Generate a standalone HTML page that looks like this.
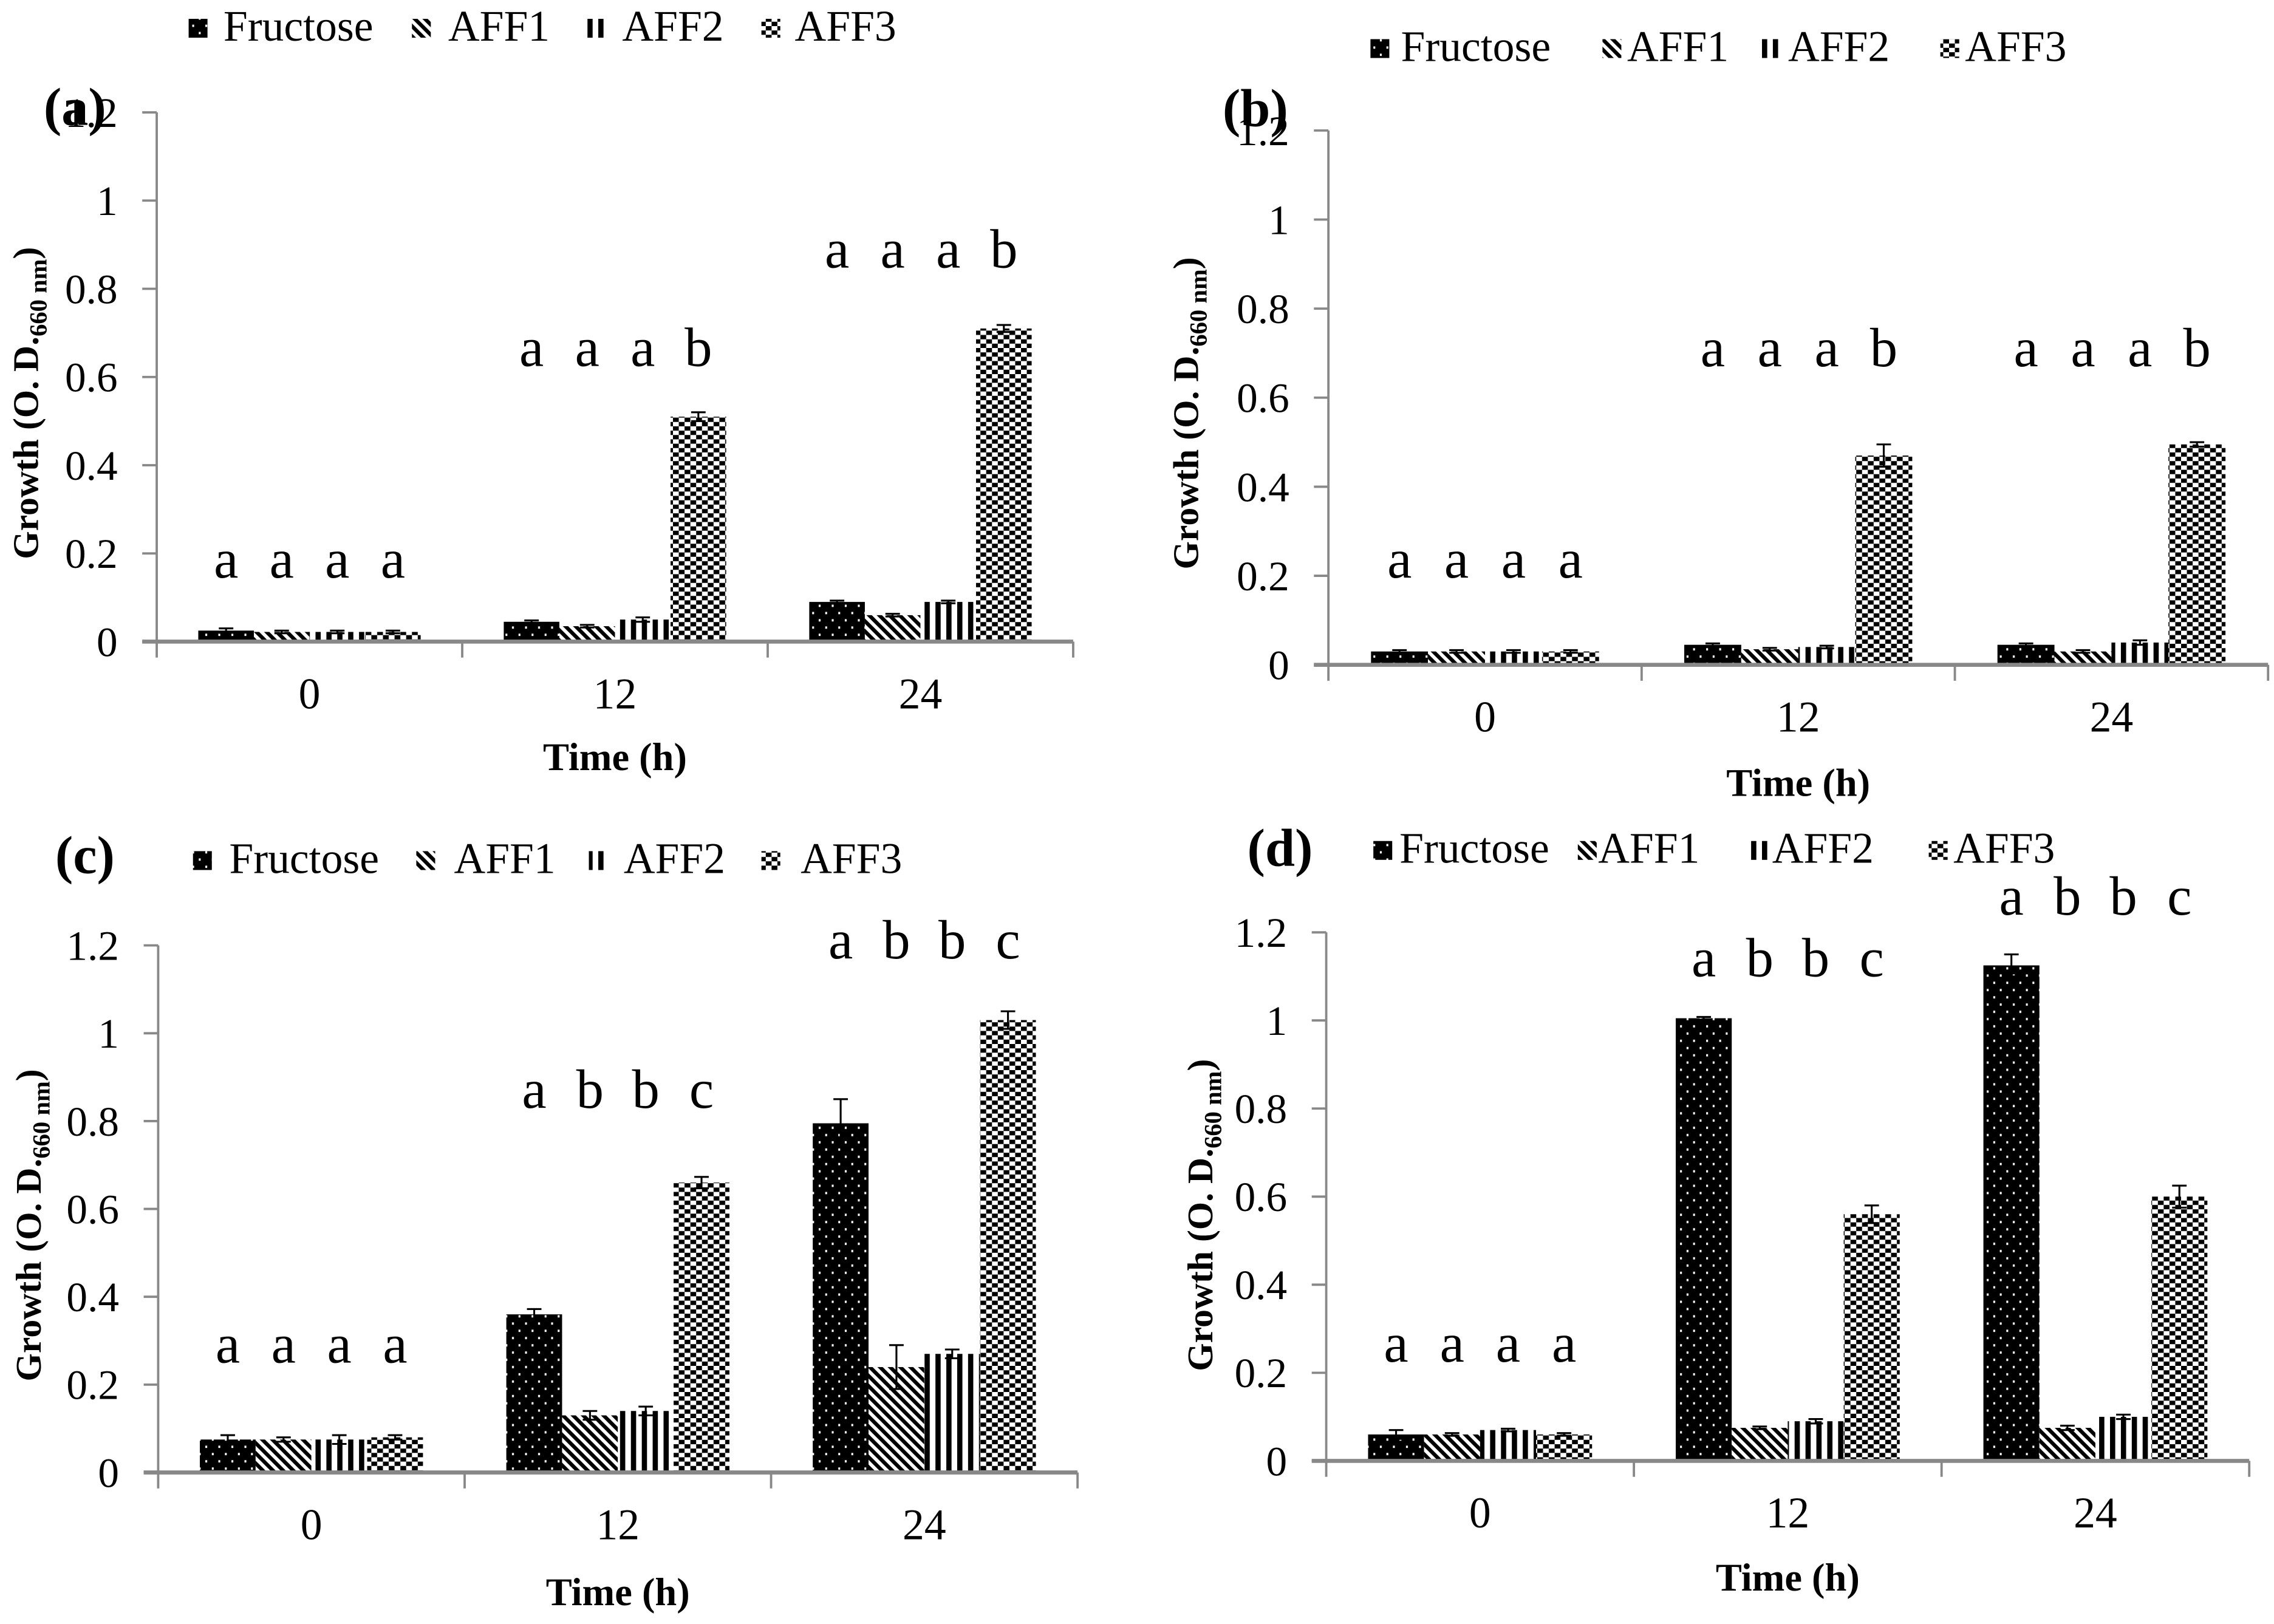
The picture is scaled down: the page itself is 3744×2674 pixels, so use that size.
<!DOCTYPE html>
<html><head><meta charset="utf-8"><style>
html,body{margin:0;padding:0;background:#fff;}
svg{display:block;font-family:"Liberation Serif",serif;}
</style></head><body>
<svg id="fig" width="3744" height="2674" viewBox="0 0 1568 1120" xmlns="http://www.w3.org/2000/svg">
<defs>
<pattern id="pDots" width="9" height="10" patternUnits="userSpaceOnUse"><rect width="9" height="10" fill="#000"/><rect x="2" y="2" width="1.3" height="1.6" fill="#fff"/><rect x="6.5" y="7" width="1.3" height="1.6" fill="#fff"/></pattern>
<pattern id="pHatch" width="7" height="7" patternUnits="userSpaceOnUse"><rect width="7" height="7" fill="#fff"/><path d="M-2,-2 L9,9 M-2,5 L2,9 M5,-2 L9,2" stroke="#000" stroke-width="2.6"/></pattern>
<pattern id="pVert" width="7.5" height="7" patternUnits="userSpaceOnUse"><rect width="7.5" height="7" fill="#fff"/><rect x="0" width="3.6" height="7" fill="#000"/></pattern>
<pattern id="pCheck" width="8" height="6" patternUnits="userSpaceOnUse"><rect width="8" height="6" fill="#fff"/><rect width="4" height="3" fill="#000"/><rect x="4" y="3" width="4" height="3" fill="#000"/></pattern>
</defs>
</svg>
<script>
const categories = ["0","12","24"];
const seriesNames = ["Fructose","AFF1","AFF2","AFF3"];
const yTicks = [0,0.2,0.4,0.6,0.8,1,1.2];
const yTickLabels = ["0","0.2","0.4","0.6","0.8","1","1.2"];
// values[series][category]
const valuesA = [[0.025,0.045,0.09],[0.022,0.035,0.06],[0.022,0.05,0.09],[0.022,0.51,0.71]];
const errorsA = [[0.005,0.003,0.003],[0.003,0.003,0.003],[0.003,0.005,0.003],[0.003,0.01,0.008]];
const lettersA = [["a","a","a","a"],["a","a","a","b"],["a","a","a","b"]];
const letterLevelA = [0.175,0.655,0.878];
const valuesB = [[0.03,0.045,0.045],[0.03,0.035,0.03],[0.03,0.04,0.05],[0.03,0.47,0.495]];
const errorsB = [[0.003,0.003,0.003],[0.003,0.003,0.003],[0.003,0.003,0.005],[0.003,0.025,0.005]];
const lettersB = [["a","a","a","a"],["a","a","a","b"],["a","a","a","b"]];
const letterLevelB = [0.225,0.70,0.70];
const valuesC = [[0.075,0.36,0.795],[0.075,0.13,0.24],[0.075,0.14,0.27],[0.08,0.66,1.03]];
const errorsC = [[0.01,0.012,0.055],[0.005,0.01,0.05],[0.01,0.01,0.01],[0.005,0.013,0.02]];
const lettersC = [["a","a","a","a"],["a","b","b","c"],["a","b","b","c"]];
const letterLevelC = [0.28,0.86,1.2];
const valuesD = [[0.06,1.005,1.125],[0.06,0.075,0.075],[0.07,0.09,0.1],[0.06,0.56,0.6]];
const errorsD = [[0.01,0.003,0.025],[0.003,0.003,0.005],[0.003,0.005,0.005],[0.003,0.02,0.025]];
const lettersD = [["a","a","a","a"],["a","b","b","c"],["a","b","b","c"]];
const letterLevelD = [0.255,1.13,1.27];

const fills = ["url(#pDots)","url(#pHatch)","url(#pVert)","url(#pCheck)"];
const NS = "http://www.w3.org/2000/svg";
const svg = document.getElementById("fig");
function mk(tag, attrs, parent, text){
  const e = document.createElementNS(NS, tag);
  for (const k in attrs) e.setAttribute(k, attrs[k]);
  if (text !== undefined) e.textContent = text;
  (parent||svg).appendChild(e);
  return e;
}
function panel(id, geo, values, errors, letters, levels){
  const g = mk("g", {});
  
  
  const x0 = geo.x0, x1 = geo.x1, yb = geo.y0, yt = geo.yTop;
  const yScale = v => yb - (v/1.2)*(yb-yt);
  const cw = (x1-x0)/categories.length;
  const xCenter = i => x0 + cw*(i+0.5);
  const bw = cw*0.182;
  // bars first
  categories.forEach((c,i)=>{
    for (let s=0;s<seriesNames.length;s++){
      const bx = xCenter(i) + (s-2)*bw;
      const v = values[s][i];
      const r = mk("rect",{x:bx,y:yScale(v),width:bw,height:yb-yScale(v),fill:fills[s]},g);
      
      
      const e = errors[s][i], cx = bx+bw/2;
      const eb = mk("path",{d:`M${cx},${yScale(v+e)}V${yScale(v-e)}M${cx-5},${yScale(v+e)}H${cx+5}M${cx-5},${yScale(v-e)}H${cx+5}`,stroke:"#000","stroke-width":1.3,fill:"none"},g);
      
      
      const lt = mk("text",{x:cx,y:yScale(levels[i])+9,"text-anchor":"middle","font-size":38},g,letters[i][s]);
      
      
    }
    const tl = mk("text",{x:xCenter(i),y:yb+46,"text-anchor":"middle","font-size":30},g,c);
    
    
  });
  // axes
  const ya = mk("line",{x1:x0,y1:yt,x2:x0,y2:yb,stroke:"#888","stroke-width":1.6},g);
  
  
  const xa = mk("line",{x1:x0-10,y1:yb,x2:x1,y2:yb,stroke:"#888","stroke-width":2.8},g);
  
  
  yTicks.forEach((t,i)=>{
    const y = yScale(t);
    mk("line",{x1:x0-10,y1:y,x2:x0,y2:y,stroke:"#888","stroke-width":1.6},g);
    const tl = mk("text",{x:x0-27,y:y+10,"text-anchor":"end","font-size":29},g,yTickLabels[i]);
    
    
  });
  for (let i=0;i<=categories.length;i++){
    const x = x0+cw*i;
    mk("line",{x1:x,y1:yb,x2:x,y2:yb+11,stroke:"#888","stroke-width":1.6},g);
  }
  const xt = mk("text",{x:(x0+x1)/2,y:geo.titleY,"text-anchor":"middle","font-size":27,"font-weight":"bold"},g,"Time (h)");
  
  
  const yt2 = mk("text",{x:0,y:0,"text-anchor":"middle","font-size":25,"font-weight":"bold",transform:`translate(${geo.ylabX},${geo.ylabY}) rotate(-90)`},g);
  
  
  mk("tspan",{},yt2,"Growth (O. D.");
  mk("tspan",{"font-size":17,dy:6},yt2,"660 nm");
  mk("tspan",{dy:-6},yt2,")");
  const pl = mk("text",{x:geo.lblX,y:geo.lblY,"font-size":37,"font-weight":"bold"},g,"("+id+")");
  
  
  // legend
  seriesNames.forEach((n,s)=>{
    const lg = mk("g",{},g);
    
    
    mk("rect",{x:geo.legSym[s],y:geo.legY-15,width:13,height:13,fill:fills[s]},lg);
    mk("text",{x:geo.legTxt[s],y:geo.legY,"font-size":30},lg,n);
  });
}
panel("a",{x0:108,x1:740,y0:442.5,yTop:77.5,titleY:531,ylabX:26,ylabY:278,lblX:30,lblY:86,legY:28,legSym:[130,284,405,525],legTxt:[154,309,429,548]},valuesA,errorsA,lettersA,letterLevelA);
panel("b",{x0:916,x1:1564,y0:458.5,yTop:90,titleY:549,ylabX:826,ylabY:285,lblX:843,lblY:87,legY:42,legSym:[945,1105,1215,1338],legTxt:[966,1122,1233,1355]},valuesB,errorsB,lettersB,letterLevelB);
panel("c",{x0:109,x1:743,y0:1015.5,yTop:652,titleY:1107,ylabX:28,ylabY:845,lblX:38,lblY:602,legY:602,legSym:[133,287,406,525],legTxt:[158,313,430,552]},valuesC,errorsC,lettersC,letterLevelC);
panel("d",{x0:914.5,x1:1551,y0:1007.5,yTop:643,titleY:1097,ylabX:836,ylabY:838,lblX:860,lblY:597,legY:595,legSym:[947,1088,1207,1330],legTxt:[965,1102,1222,1347]},valuesD,errorsD,lettersD,letterLevelD);
</script>
</body></html>
